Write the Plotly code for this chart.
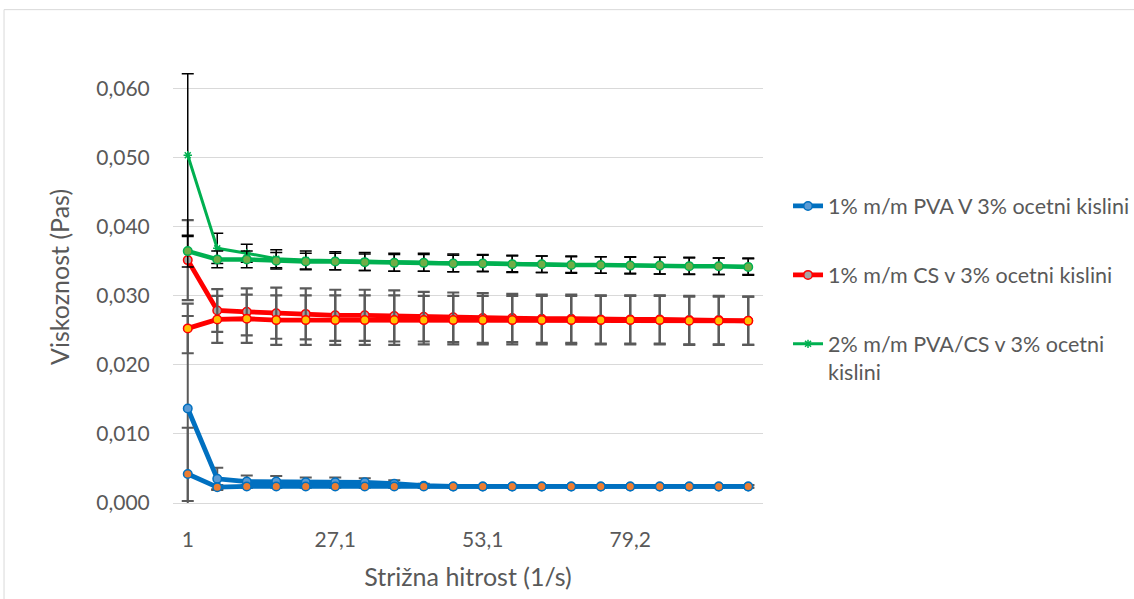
import plotly.graph_objects as go

# Shear rate categories (1/s) and their axis labels
shear_rate = ["1", "6,2", "11,4", "16,6", "21,8", "27,1", "32,3", "37,5", "42,7", "47,9",
              "53,1", "58,3", "63,5", "68,7", "73,9", "79,2", "84,4", "89,6", "94,8", "100"]
x_tick_labels = ["1", "27,1", "53,1", "79,2"]

y_tick_values = [0.0, 0.01, 0.02, 0.03, 0.04, 0.05, 0.06]
y_tick_labels = ["0,000", "0,010", "0,020", "0,030", "0,040", "0,050", "0,060"]

# 1% m/m PVA in 3% acetic acid (two runs)
pva_run1 = [0.0137, 0.0035, 0.0031, 0.0031, 0.0030, 0.0030, 0.0030, 0.0028, 0.0025, 0.0024,
            0.0024, 0.0024, 0.0024, 0.0024, 0.0024, 0.0024, 0.0024, 0.0024, 0.0024, 0.0024]
pva_run1_err = [0.0134, 0.0016, 0.0009, 0.0008, 0.0007, 0.0007, 0.0006, 0.0005, 0.0003, 0.0002,
                0.0002, 0.0002, 0.0002, 0.0002, 0.0002, 0.0002, 0.0002, 0.0002, 0.0002, 0.0002]
pva_run2 = [0.0042, 0.0023, 0.0024, 0.0024, 0.0024, 0.0024, 0.0024, 0.0024, 0.0024, 0.0024,
            0.0024, 0.0024, 0.0024, 0.0024, 0.0024, 0.0024, 0.0024, 0.0024, 0.0024, 0.0024]
pva_run2_err = [0.0067, 0.0003, 0.0002, 0.0002, 0.0002, 0.0002, 0.0002, 0.0002, 0.0002, 0.0002,
                0.0002, 0.0002, 0.0002, 0.0002, 0.0002, 0.0002, 0.0002, 0.0002, 0.0002, 0.0002]

# 1% m/m CS in 3% acetic acid (two runs)
cs_run1 = [0.0352, 0.0279, 0.0277, 0.0275, 0.0274, 0.0272, 0.0272, 0.0271, 0.0270, 0.0269,
           0.0268, 0.0268, 0.0267, 0.0267, 0.0266, 0.0266, 0.0266, 0.0265, 0.0265, 0.0264]
cs_run1_err = [0.0058, 0.0031, 0.0034, 0.0037, 0.0037, 0.0037, 0.0037, 0.0037, 0.0036, 0.0036,
               0.0036, 0.0035, 0.0035, 0.0035, 0.0035, 0.0035, 0.0035, 0.0035, 0.0035, 0.0035]
cs_run2 = [0.0253, 0.0266, 0.0267, 0.0265, 0.0265, 0.0265, 0.0265, 0.0265, 0.0265, 0.0265,
           0.0265, 0.0265, 0.0265, 0.0265, 0.0265, 0.0265, 0.0265, 0.0264, 0.0264, 0.0264]
cs_run2_err = [0.0036, 0.0034, 0.0035, 0.0036, 0.0036, 0.0036, 0.0036, 0.0036, 0.0035, 0.0035,
               0.0035, 0.0035, 0.0035, 0.0035, 0.0035, 0.0035, 0.0035, 0.0035, 0.0035, 0.0035]

# 2% m/m PVA/CS in 3% acetic acid (two runs)
blend_run1 = [0.0504, 0.0369, 0.0362, 0.0354, 0.0352, 0.0351, 0.0350, 0.0349, 0.0349, 0.0348,
              0.0348, 0.0347, 0.0346, 0.0346, 0.0345, 0.0345, 0.0344, 0.0344, 0.0343, 0.0343]
blend_run1_err = [0.0118, 0.0022, 0.0013, 0.0013, 0.0013, 0.0013, 0.0013, 0.0013, 0.0013, 0.0013,
                  0.0012, 0.0012, 0.0012, 0.0012, 0.0012, 0.0012, 0.0012, 0.0012, 0.0012, 0.0012]
blend_run2 = [0.0365, 0.0353, 0.0353, 0.0351, 0.0350, 0.0350, 0.0349, 0.0348, 0.0348, 0.0347,
              0.0347, 0.0346, 0.0346, 0.0345, 0.0345, 0.0344, 0.0344, 0.0343, 0.0343, 0.0342]
blend_run2_err = [0.0023, 0.0012, 0.0012, 0.0012, 0.0012, 0.0012, 0.0012, 0.0012, 0.0012, 0.0012,
                  0.0012, 0.0012, 0.0012, 0.0012, 0.0012, 0.0012, 0.0012, 0.0012, 0.0012, 0.0012]

names = ["1% m/m PVA V 3% ocetni kislini",
         "1% m/m CS v 3% ocetni kislini",
         "2% m/m PVA/CS v 3% ocetni<br>kislini"]

FONT = "Lato"
TEXT = "#595959"
GRID = "#d9d9d9"

BLUE = "#0070C0"
RED = "#FF0000"
GREEN = "#00B050"


def err(vals, color, thick, width):
    return dict(type="data", array=vals, visible=True, color=color,
                thickness=thick, width=width)


fig = go.Figure()

series = [
    # (values, errors, line colour, line width, marker, error colour, err thickness, name, legend, group)
    (pva_run1, pva_run1_err, BLUE, 4.8,
     dict(symbol="circle", size=8.5, color="#5B9BD5", line=dict(color=BLUE, width=1.5)),
     "#5a5a5a", 2, names[0], True, "g1"),
    (pva_run2, pva_run2_err, BLUE, 4.8,
     dict(symbol="circle", size=8.5, color="#ED7D31", line=dict(color=BLUE, width=1.5)),
     "#5a5a5a", 2, names[0], False, "g1"),
    (cs_run1, cs_run1_err, RED, 4.8,
     dict(symbol="circle", size=8.5, color="#A5A5A5", line=dict(color=RED, width=1.5)),
     "#5a5a5a", 2.2, names[1], True, "g2"),
    (cs_run2, cs_run2_err, RED, 4.8,
     dict(symbol="circle", size=8.5, color="#FFC000", line=dict(color=RED, width=1.5)),
     "#5a5a5a", 2.2, names[1], False, "g2"),
    (blend_run1, blend_run1_err, GREEN, 3,
     dict(symbol="asterisk-open", size=7, color=GREEN, line=dict(color=GREEN, width=1.5)),
     "#000000", 1.5, names[2], True, "g3"),
    (blend_run2, blend_run2_err, GREEN, 4.5,
     dict(symbol="circle", size=8.5, color="#70AD47", line=dict(color=GREEN, width=1.5)),
     "#000000", 1.5, names[2], False, "g3"),
]

for vals, errs, lc, lw, marker, ec, et, name, show, grp in series:
    fig.add_trace(go.Scatter(
        x=shear_rate, y=vals, mode="lines+markers", name=name,
        line=dict(color=lc, width=lw), marker=marker,
        error_y=err(errs, ec, et, 6),
        showlegend=show, legendgroup=grp,
    ))

fig.update_layout(
    width=1134, height=599,
    margin=dict(l=173, r=371, t=71, b=96, autoexpand=False),
    paper_bgcolor="white", plot_bgcolor="white",
    font=dict(family=FONT, size=21, color=TEXT),
    legend=dict(
        x=1.0424, xanchor="left", y=0.735, yanchor="top",
        font=dict(family=FONT, size=21.5, color=TEXT),
        traceorder="grouped", tracegroupgap=38, valign="top",
        bgcolor="rgba(0,0,0,0)",
    ),
    xaxis=dict(
        type="category", categoryorder="array", categoryarray=shear_rate,
        range=[-0.5, 19.5],
        tickmode="array", tickvals=x_tick_labels, ticktext=x_tick_labels,
        ticks="outside", ticklen=18, tickcolor="rgba(0,0,0,0)",
        showgrid=False, showline=True, linecolor=GRID, linewidth=1,
        zeroline=False,
        title=dict(text="Strižna hitrost (1/s)", standoff=18,
                   font=dict(family=FONT, size=25, color=TEXT)),
        tickfont=dict(family=FONT, size=21, color=TEXT),
    ),
    yaxis=dict(
        range=[0, 0.0626],
        tickmode="array", tickvals=y_tick_values, ticktext=y_tick_labels,
        ticks="outside", ticklen=18, tickcolor="rgba(0,0,0,0)",
        showgrid=True, gridcolor=GRID, gridwidth=1,
        zeroline=False, showline=False,
        tickfont=dict(family=FONT, size=21, color=TEXT),
    ),
    annotations=[dict(
        text="Viskoznost (Pas)", textangle=-90,
        xref="paper", yref="paper", x=-0.1945, y=0.524,
        xanchor="center", yanchor="middle", showarrow=False,
        font=dict(family=FONT, size=25, color=TEXT),
    )],
    shapes=[dict(type="rect", xref="paper", yref="paper",
                 x0=-0.2864, x1=1.64, y0=-0.235, y1=1.142,
                 line=dict(color=GRID, width=1), layer="below")],
)

fig.write_html("out.html")
